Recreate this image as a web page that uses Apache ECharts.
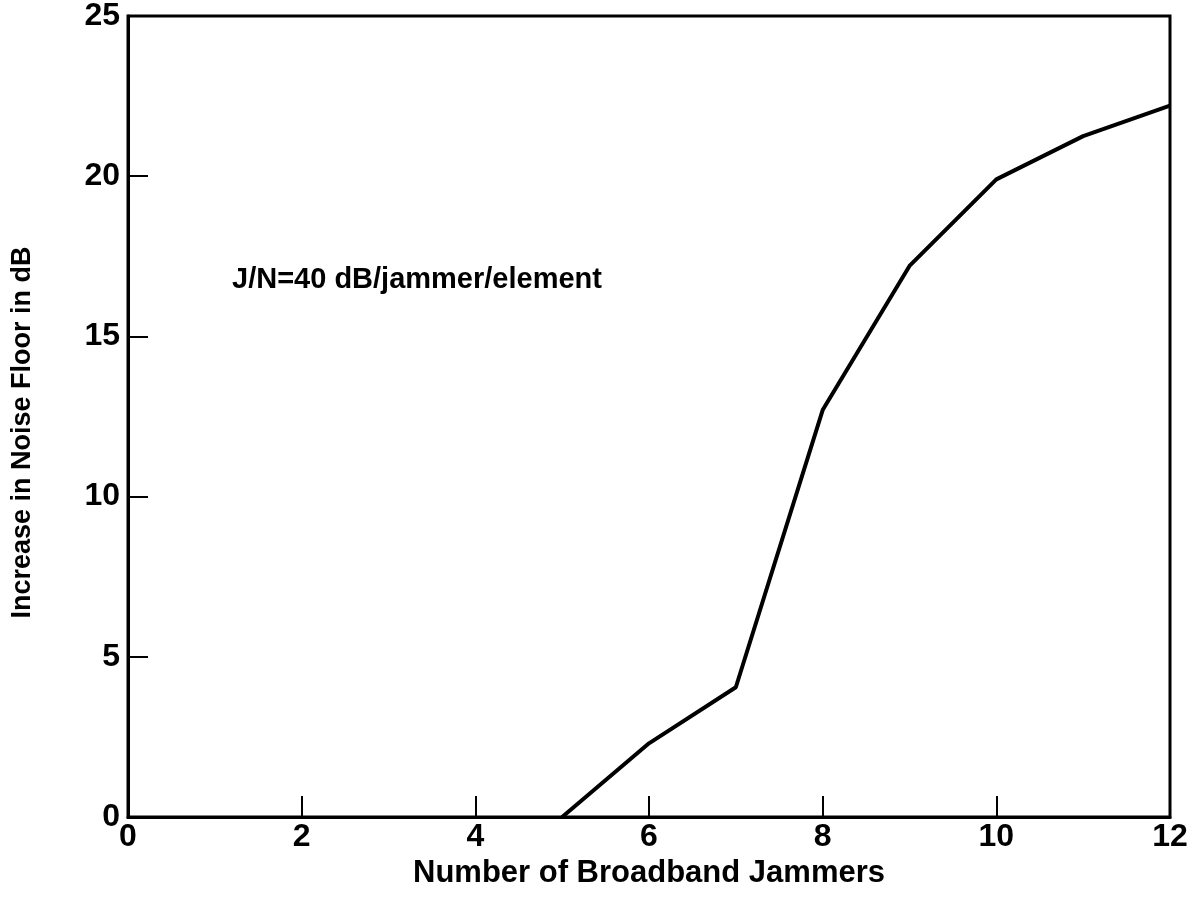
<!DOCTYPE html>
<html>
<head>
<meta charset="utf-8">
<script src="https://cdn.jsdelivr.net/npm/echarts@6/dist/echarts.min.js"></script>
<style>
html,body{margin:0;padding:0;background:#fff;}
#c{width:1195px;height:914px;}
</style>
</head>
<body>
<div id="c"></div>
<script>
const jammers = [5, 6, 7, 8, 9, 10, 11, 12];
const noiseIncrease = [0, 2.3, 4.05, 12.7, 17.2, 19.9, 21.25, 22.2];
const xTicks = [0, 2, 4, 6, 8, 10, 12];
const yTicks = [0, 5, 10, 15, 20, 25];
const annotation = 'J/N=40 dB/jammer/element';
const xTitle = 'Number of Broadband Jammers';
const yTitle = 'Increase in Noise Floor in dB';

const font = '"Liberation Sans", Arial, Helvetica, sans-serif';
const chart = echarts.init(document.getElementById('c'), null, {renderer: 'canvas'});
chart.setOption({
  animation: false,
  backgroundColor: '#fff',
  grid: {left: 128, right: 25, top: 16, bottom: 97, show: true, borderColor: '#000', borderWidth: 3, backgroundColor: 'transparent'},
  xAxis: {
    type: 'value', min: xTicks[0], max: xTicks[xTicks.length - 1], interval: 2,
    name: xTitle, nameLocation: 'middle', nameGap: 37,
    nameTextStyle: {fontFamily: font, fontWeight: 'bold', fontSize: 31, color: '#000'},
    axisLine: {show: true, lineStyle: {color: '#000', width: 3}},
    axisTick: {show: true, inside: true, length: 21, lineStyle: {color: '#000', width: 2}},
    axisLabel: {fontFamily: font, fontWeight: 'bold', fontSize: 32, color: '#000', margin: 4},
    splitLine: {show: false}
  },
  yAxis: {
    type: 'value', min: yTicks[0], max: yTicks[yTicks.length - 1], interval: 5,
    name: yTitle, nameLocation: 'middle', nameGap: 92, nameRotate: 90,
    nameTextStyle: {fontFamily: font, fontWeight: 'bold', fontSize: 27, color: '#000', padding: [0, 32, 0, 0]},
    axisLine: {show: true, lineStyle: {color: '#000', width: 3}},
    axisTick: {show: true, inside: true, length: 20, lineStyle: {color: '#000', width: 2}},
    axisLabel: {fontFamily: font, fontWeight: 'bold', fontSize: 32, color: '#000', margin: 8},
    splitLine: {show: false}
  },
  graphic: [{
    type: 'text', left: 232, top: 265,
    style: {text: annotation, font: 'bold 29px ' + font, fill: '#000'}
  }],
  series: [{
    type: 'line',
    data: jammers.map((x, i) => [x, noiseIncrease[i]]),
    showSymbol: false,
    lineStyle: {color: '#000', width: 4},
    clip: false
  }]
});
</script>
</body>
</html>
